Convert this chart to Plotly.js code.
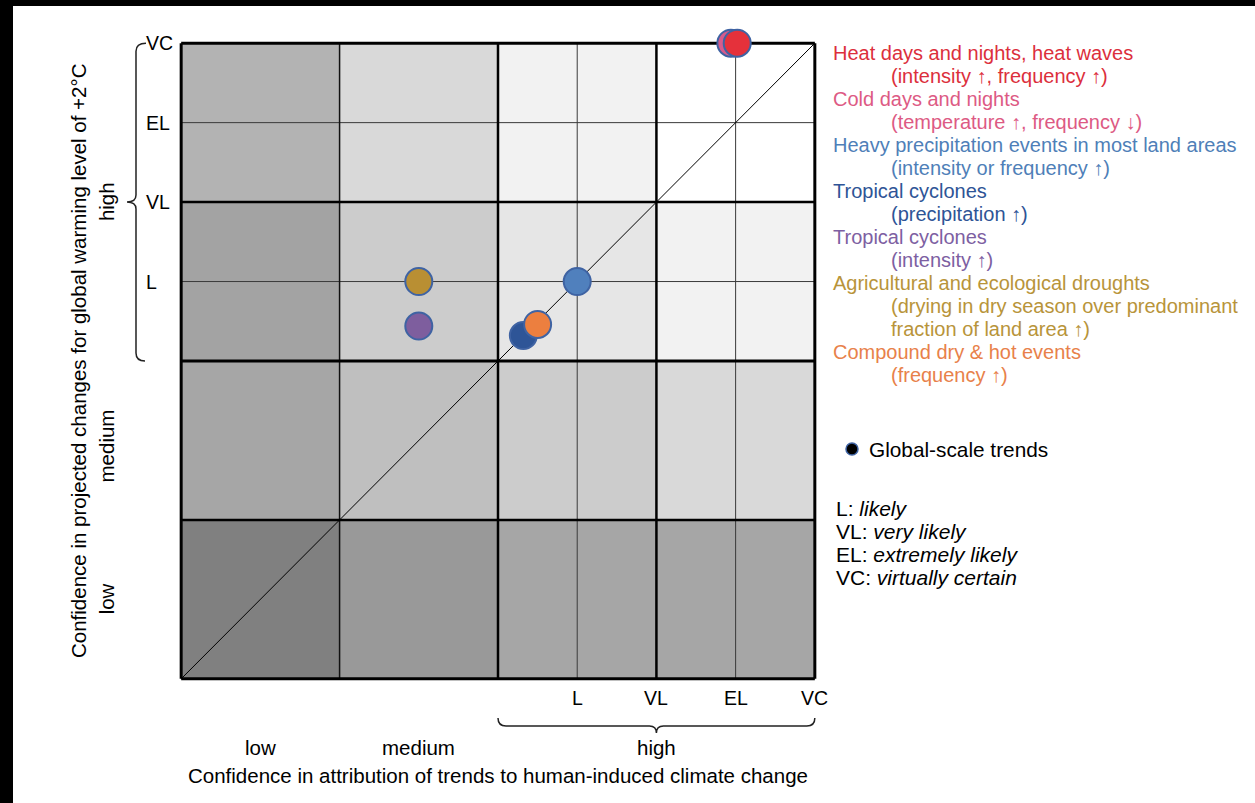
<!DOCTYPE html>
<html><head><meta charset="utf-8">
<script src="https://cdn.plot.ly/plotly-3.0.1.min.js"></script>
<style>
html,body{margin:0;padding:0;background:#fff;overflow:hidden;}
#chart{position:absolute;left:0;top:0;width:1255px;height:803px;}
.bar{position:absolute;background:#000;z-index:10;}
</style></head><body>
<div id="chart"></div>
<div class="bar" style="left:0;top:0;width:1255px;height:6px"></div>
<div class="bar" style="left:0;top:0;width:13px;height:803px"></div>
<script>
// ---------------- data ----------------
const confidenceLevels = ['low', 'medium', 'high'];
const confidenceCenters = [0.5, 1.5, 3];          // centre of each confidence band on both axes
const likelihoodLabels = ['L', 'VL', 'EL', 'VC'];
const likelihoodValues = [2.5, 3, 3.5, 4];
const likelihoodMeaning = ['likely', 'very likely', 'extremely likely', 'virtually certain'];

// background cells (grey level 0-255), rows bottom->top, cols left->right
const cellCentersX = [0.5, 1.5, 2.5, 3.5];
const cellCentersY = [0.5, 1.5, 2.5, 3.5];
const cellGrey = [
  [128, 153, 166, 166],
  [166, 191, 204, 217],
  [163, 204, 230, 242],
  [179, 217, 242, 255]
];

const eventNames = [
  'Heat days and nights, heat waves',
  'Cold days and nights',
  'Heavy precipitation events in most land areas',
  'Tropical cyclones',
  'Tropical cyclones',
  'Agricultural and ecological droughts',
  'Compound dry &amp; hot events'
];
const eventDetails = [
  ['(intensity ↑, frequency ↑)'],
  ['(temperature ↑, frequency ↓)'],
  ['(intensity or frequency ↑)'],
  ['(precipitation ↑)'],
  ['(intensity ↑)'],
  ['(drying in dry season over predominant', 'fraction of land area ↑)'],
  ['(frequency ↑)']
];
const attribution = [3.51, 3.47, 2.5, 2.16, 1.5, 1.5, 2.25];
const projection  = [4.0, 4.0, 2.5, 2.16, 2.22, 2.5, 2.23];
const textColors   = ['#dc2f3c', '#dd5a84', '#4f7fb8', '#2e5496', '#7d60a2', '#b8943a', '#e8814a'];
const markerColors = ['#e5313b', '#d75b8c', '#5080bd', '#2e5597', '#7e5e9e', '#b98f33', '#ec7f3f'];
const drawOrder = [1, 0, 2, 3, 4, 5, 6];

// ---------------- geometry ----------------
const W = 1255, H = 803;
const PAD = 0.02;
const M = {l: 178, r: 437, t: 40, b: 121};
const PW = W - M.l - M.r, PH = H - M.t - M.b;
const span = 4 + 2 * PAD;
const xpx = v => M.l + (v + PAD) / span * PW;
const ypx = v => M.t + PH - (v + PAD) / span * PH;
const px2x = p => (p - M.l) / PW;
const py2y = p => (M.t + PH - p) / PH;

const FONT = 'Liberation Sans, Arial, sans-serif';
const F = (size, color) => ({family: FONT, size: size, color: color || '#000'});

// ---------------- traces ----------------
const traces = [];
traces.push({
  type: 'heatmap', x: cellCentersX, y: cellCentersY, z: cellGrey,
  colorscale: [[0, '#000000'], [1, '#ffffff']], zmin: 0, zmax: 255,
  showscale: false, hoverinfo: 'skip'
});
function vline(v, w, c) { traces.push({type:'scatter', mode:'lines', x:[v, v], y:[0, 4], line:{color:c, width:w}, hoverinfo:'skip', showlegend:false}); }
function hline(v, w, c) { traces.push({type:'scatter', mode:'lines', x:[0, 4], y:[v, v], line:{color:c, width:w}, hoverinfo:'skip', showlegend:false}); }
[2.5, 3.5].forEach(v => { vline(v, 1, '#3a3a3a'); hline(v, 1, '#3a3a3a'); });
vline(1, 1.5, '#111'); vline(2, 2.5, '#000'); vline(3, 2.5, '#000');
hline(1, 2.5, '#000'); hline(2, 3, '#000'); hline(3, 2.5, '#000');
vline(0, 3, '#000'); vline(4, 3, '#000'); hline(0, 3, '#000'); hline(4, 3, '#000');
traces.push({type:'scatter', mode:'lines', x:[0, 4], y:[0, 4], line:{color:'#000', width:1}, hoverinfo:'skip', showlegend:false});
traces.push({
  type:'scatter', mode:'markers', cliponaxis:false, showlegend:false,
  x: drawOrder.map(i => attribution[i]),
  y: drawOrder.map(i => projection[i]),
  text: drawOrder.map(i => eventNames[i]),
  marker: {size: 27, color: drawOrder.map(i => markerColors[i]), line: {color: '#3f63a3', width: 2}, opacity: 1}
});

// ---------------- annotations ----------------
const ann = [];
const txt = (o) => Object.assign({showarrow:false, font:F(20.5)}, o);

// likelihood ticks on the x axis
likelihoodLabels.forEach((t, i) => ann.push(txt({text:t, x:likelihoodValues[i], y:0, xref:'x', yref:'y', xanchor:'center', yanchor:'middle', yshift:-19, font:F(19.5)})));
// likelihood ticks on the y axis
likelihoodLabels.forEach((t, i) => ann.push(txt({text:t, x:px2x(144), y:likelihoodValues[i], xref:'paper', yref:'y', xanchor:'left', yanchor:'middle', font:F(19.5)})));
// confidence band labels
confidenceLevels.forEach((t, i) => {
  ann.push(txt({text:t, x:confidenceCenters[i], y:0, xref:'x', yref:'y', xanchor:'center', yanchor:'middle', yshift:-69}));
  ann.push(txt({text:t, x:px2x(106), y:confidenceCenters[i], xref:'paper', yref:'y', xanchor:'center', yanchor:'middle', textangle:-90, yshift: i === 1 ? -6 : 0}));
});
// axis titles
ann.push(txt({text:'Confidence in attribution of trends to human-induced climate change', x:2, y:0, xref:'x', yref:'y', xanchor:'center', yanchor:'middle', yshift:-97}));
ann.push(txt({text:'Confidence in projected changes for global warming level of +2°C', x:px2x(78), y:2, xref:'paper', yref:'y', xanchor:'center', yanchor:'middle', textangle:-90}));

// legend text
let line = 0;
const LEG_Y0 = 52.7, LEG_DY = 23.04;
eventNames.forEach((name, i) => {
  ann.push(txt({text:name, x:px2x(831), y:py2y(LEG_Y0 + LEG_DY * line), xref:'paper', yref:'paper', xanchor:'left', yanchor:'middle', font:F(20, textColors[i])}));
  line++;
  eventDetails[i].forEach(d => {
    ann.push(txt({text:d, x:px2x(889), y:py2y(LEG_Y0 + LEG_DY * line), xref:'paper', yref:'paper', xanchor:'left', yanchor:'middle', font:F(20, textColors[i])}));
    line++;
  });
});
ann.push(txt({text:'Global-scale trends', x:px2x(867), y:py2y(449), xref:'paper', yref:'paper', xanchor:'left', yanchor:'middle', font:F(20.8)}));
likelihoodLabels.forEach((t, i) => ann.push(txt({text:t + ': <i>' + likelihoodMeaning[i] + '</i>', x:px2x(834), y:py2y(508 + 23 * i), xref:'paper', yref:'paper', xanchor:'left', yanchor:'middle', font:F(21)})));

// ---------------- shapes (braces, key dot) ----------------
const P = (x, y) => px2x(x).toFixed(5) + ',' + py2y(y).toFixed(5);
const yTop = ypx(4), yBot = ypx(2), yMid = ypx(3);
const vBrace = 'M' + P(146, yTop) + ' Q' + P(136, yTop) + ' ' + P(136, yTop + 8) +
  ' L' + P(136, yMid - 7) + ' Q' + P(136, yMid) + ' ' + P(127, yMid) +
  ' Q' + P(136, yMid) + ' ' + P(136, yMid + 7) + ' L' + P(136, yBot - 8) +
  ' Q' + P(136, yBot) + ' ' + P(145, yBot);
const xL = xpx(2), xR = xpx(4), xM = xpx(3);
const hBrace = 'M' + P(xL, 718) + ' Q' + P(xL, 726) + ' ' + P(xL + 8, 726) +
  ' L' + P(xM - 7, 726) + ' Q' + P(xM, 726) + ' ' + P(xM, 733) +
  ' Q' + P(xM, 726) + ' ' + P(xM + 7, 726) + ' L' + P(xR - 8, 726) +
  ' Q' + P(xR, 726) + ' ' + P(xR, 718);
const shapes = [
  {type:'path', xref:'paper', yref:'paper', path:vBrace, line:{color:'#222', width:1.5}},
  {type:'path', xref:'paper', yref:'paper', path:hBrace, line:{color:'#222', width:1.5}},
  {type:'circle', xref:'paper', yref:'paper', x0:px2x(846), x1:px2x(858), y0:py2y(455), y1:py2y(443), fillcolor:'#000', line:{color:'#3f63a3', width:1.5}}
];

const layout = {
  width: W, height: H, margin: M, paper_bgcolor: '#fff', plot_bgcolor: '#fff',
  showlegend: false,
  xaxis: {range:[-PAD, 4 + PAD], visible:false, fixedrange:true},
  yaxis: {range:[-PAD, 4 + PAD], visible:false, fixedrange:true},
  annotations: ann, shapes: shapes,
  font: {family: FONT}
};
Plotly.newPlot('chart', traces, layout, {displayModeBar:false, staticPlot:true});
</script>
</body></html>
